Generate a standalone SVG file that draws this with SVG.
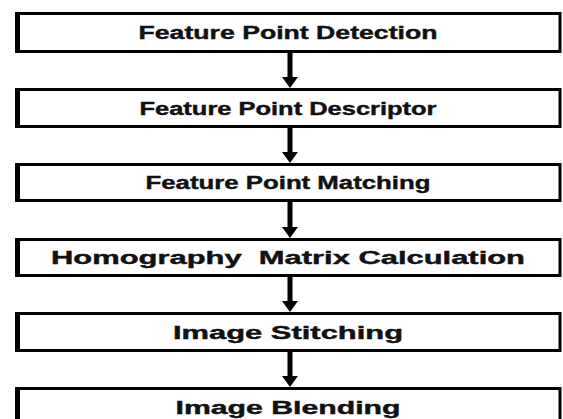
<svg xmlns="http://www.w3.org/2000/svg" width="563" height="419" viewBox="0 0 563 419">
<style>
.bx{fill:#fff;stroke:#000;stroke-width:3}
.lb{fill:#000}
.t{font-family:"Liberation Sans",Arial,sans-serif;font-weight:bold;font-size:18px;fill:#111;text-anchor:middle;stroke:#111;stroke-width:0.4}
.sh{stroke:#000;stroke-width:5}
.hd{fill:#000}
</style>
<rect width="563" height="419" fill="#fff"/>
<g id="connectors">
<line class="sh" x1="290" y1="53" x2="290" y2="79"/><polygon class="hd" points="282,77 298,77 290,88"/>
<line class="sh" x1="290" y1="128" x2="290" y2="154"/><polygon class="hd" points="282,152 298,152 290,163"/>
<line class="sh" x1="290" y1="202" x2="290" y2="229"/><polygon class="hd" points="282,227 298,227 290,238"/>
<line class="sh" x1="290" y1="277" x2="290" y2="303"/><polygon class="hd" points="282,301 298,301 290,312"/>
<line class="sh" x1="290" y1="352" x2="290" y2="378"/><polygon class="hd" points="282,376 298,376 290,387"/>
</g>
<g id="n1"><rect class="bx" x="17" y="13.5" width="543" height="38"/><rect class="lb" x="15" y="12" width="5" height="41"/><text class="t" x="288" y="39" textLength="299" lengthAdjust="spacingAndGlyphs">Feature Point Detection</text></g>
<g id="n2"><rect class="bx" x="17" y="89.5" width="543" height="37"/><rect class="lb" x="15" y="88" width="5" height="40"/><text class="t" x="288" y="114.5" textLength="297" lengthAdjust="spacingAndGlyphs">Feature Point Descriptor</text></g>
<g id="n3"><rect class="bx" x="17" y="164.5" width="543" height="36"/><rect class="lb" x="15" y="163" width="5" height="39"/><text class="t" x="288" y="189" textLength="285" lengthAdjust="spacingAndGlyphs">Feature Point Matching</text></g>
<g id="n4"><rect class="bx" x="17" y="239.5" width="543" height="36"/><rect class="lb" x="15" y="238" width="5" height="39"/><text class="t" x="288" y="264" textLength="474" lengthAdjust="spacingAndGlyphs" xml:space="preserve">Homography  Matrix Calculation</text></g>
<g id="n5"><rect class="bx" x="17" y="313.5" width="543" height="37"/><rect class="lb" x="15" y="312" width="5" height="40"/><text class="t" x="288" y="338.5" textLength="230" lengthAdjust="spacingAndGlyphs">Image Stitching</text></g>
<g id="n6"><rect class="bx" x="17" y="388.5" width="543" height="40"/><rect class="lb" x="15" y="387" width="5" height="40"/><text class="t" x="288" y="414" textLength="225" lengthAdjust="spacingAndGlyphs">Image Blending</text></g>
</svg>
